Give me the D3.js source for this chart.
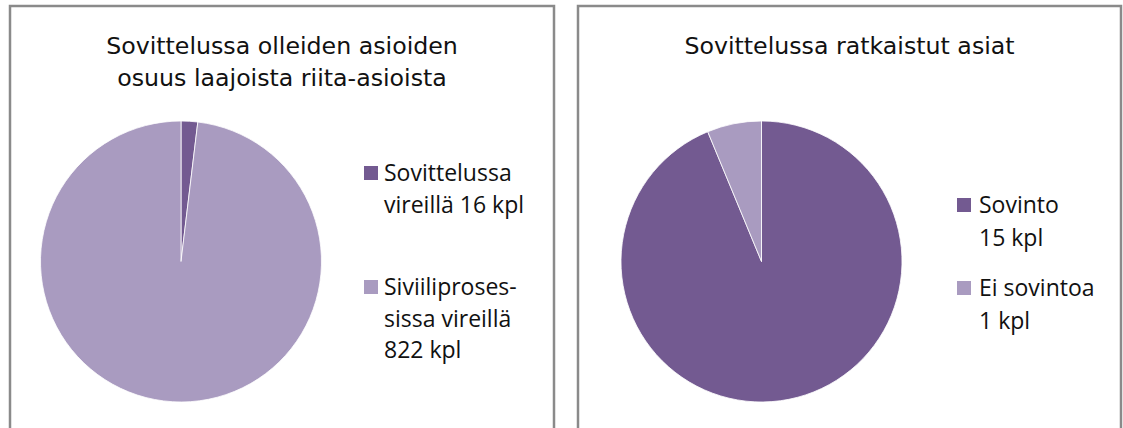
<!DOCTYPE html>
<meta charset="utf-8">
<style>
body { margin: 0; background: #fff; }
svg { display: block; }
.title { font-family: "DejaVu Sans", sans-serif; font-size: 23.7px; fill: #111; }
.legend { font-family: "Open Sans", sans-serif; font-size: 23px; fill: #111; }
</style>
<body>
<script src="https://d3js.org/d3.v7.min.js"></script>
<script>

// chart data
var leftTitle = ["Sovittelussa olleiden asioiden", "osuus laajoista riita-asioista"];
var leftValues = [16, 822];
var leftLabels = [["Sovittelussa", "vireillä 16 kpl"], ["Siviiliproses-", "sissa vireillä", "822 kpl"]];

var rightTitle = ["Sovittelussa ratkaistut asiat"];
var rightValues = [15, 1];
var rightLabels = [["Sovinto", "15 kpl"], ["Ei sovintoa", "1 kpl"]];

var colors = ["#735a91", "#a99bc0"];

var svg = d3.select("body").append("svg")
    .attr("width", 1123)
    .attr("height", 428);

var pie = d3.pie().sort(null);
var arc = d3.arc().innerRadius(0).outerRadius(140.5);

// one panel: border, title, pie, legend
function panel(opt) {
  var g = svg.append("g");

  g.append("path")
      .attr("d", "M" + opt.x0 + "," + 440 + "V" + 6 + "H" + opt.x1 + "V" + 440)
      .attr("fill", "none")
      .attr("stroke", "#8a8a8a")
      .attr("stroke-width", 2.5);

  g.selectAll("text.title")
    .data(opt.title)
    .enter().append("text")
      .attr("class", "title")
      .attr("x", (opt.x0 + opt.x1) / 2)
      .attr("y", function(d, i) { return 53.5 + i * 32; })
      .attr("text-anchor", "middle")
      .text(function(d) { return d; });

  var pg = g.append("g")
      .attr("transform", "translate(" + opt.cx + "," + 261.5 + ")");

  pg.selectAll("path")
    .data(pie(opt.values))
    .enter().append("path")
      .attr("d", arc)
      .attr("fill", function(d, i) { return colors[i]; })
      .attr("stroke", "#fff")
      .attr("stroke-width", 0.8);

  var item = g.selectAll("g.item")
    .data(opt.labels)
    .enter().append("g")
      .attr("class", "item")
      .attr("transform", function(d, i) { return "translate(" + opt.lx + "," + opt.ly[i] + ")"; });

  item.append("rect")
      .attr("x", 0)
      .attr("y", -7)
      .attr("width", 14)
      .attr("height", 14)
      .attr("fill", function(d, i) { return colors[i]; });

  item.selectAll("text")
    .data(function(d) { return d; })
    .enter().append("text")
      .attr("class", "legend")
      .attr("x", opt.tx)
      .attr("y", function(d, i) { return i * opt.lh; })
      .attr("dy", "0.35em")
      .text(function(d) { return d; });
}

panel({x0: 10, x1: 554, cx: 181, title: leftTitle, values: leftValues, labels: leftLabels,
       lx: 364, tx: 20, ly: [173, 287], lh: 31.5});
panel({x0: 578, x1: 1121, cx: 761.5, title: rightTitle, values: rightValues, labels: rightLabels,
       lx: 957, tx: 22, ly: [205, 288], lh: 32.5});

</script>
</body>
